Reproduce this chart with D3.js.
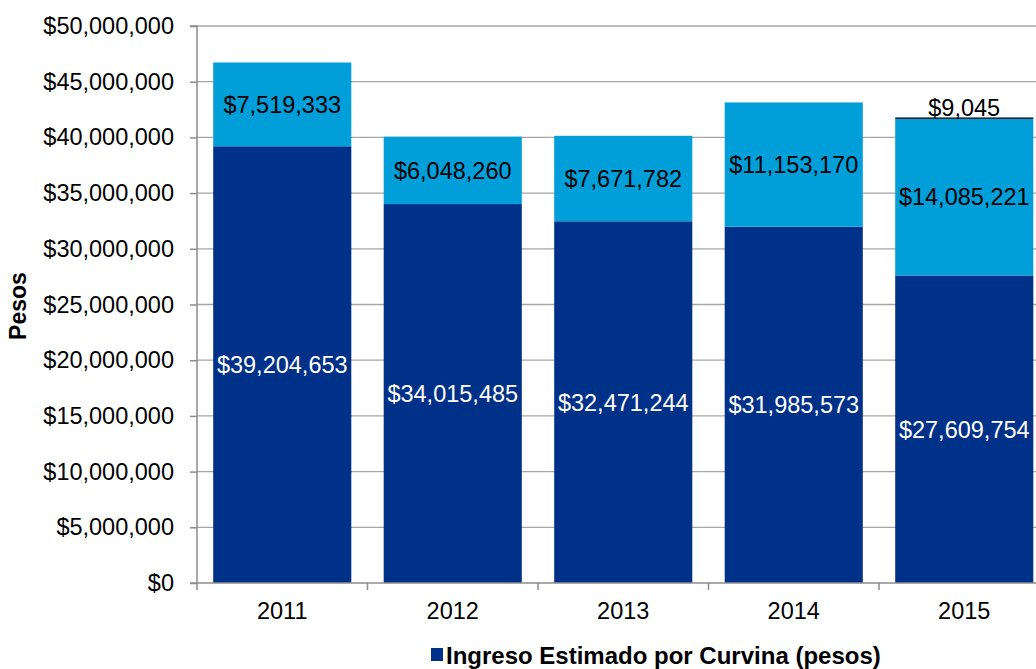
<!DOCTYPE html>
<html><head><meta charset="utf-8">
<script src="https://cdn.jsdelivr.net/npm/d3@7"></script>
<style>body{margin:0;background:#fff;overflow:hidden}svg{display:block;font-family:"Liberation Sans",Arial,sans-serif}</style>
</head><body><svg id="c" width="1036" height="669"></svg>
<script>
const years = ["2011","2012","2013","2014","2015"];
const ingresoCurvina = [39204653, 34015485, 32471244, 31985573, 27609754];
const serie2 = [7519333, 6048260, 7671782, 11153170, 14085221];
const serie3 = [0, 0, 0, 0, 9045];
const yTicks = [0,5000000,10000000,15000000,20000000,25000000,30000000,35000000,40000000,45000000,50000000];
const legendLabel = "Ingreso Estimado por Curvina (pesos)";
const yTitle = "Pesos";

(function(){
const svg = d3.select("#c");
const pLeft = 197, pTop = 26, pBottom = 583, band = 170.5;
const fs = 23.5;
const x = d3.scaleBand().domain(years).range([pLeft, pLeft + band*years.length]).paddingInner(0.19).paddingOuter(0.095);
const y = d3.scaleLinear().domain([0, 50000000]).range([pBottom, pTop]);
const fmt = d3.format("$,.0f");
const dark = "#003189", light = "#009fda", grid = "#a6a6a6";

svg.append("g").selectAll("line").data(yTicks.slice(1)).join("line")
  .attr("x1", pLeft).attr("x2", 1036).attr("y1", d=>y(d)).attr("y2", d=>y(d))
  .attr("stroke", grid).attr("stroke-width", 1.3);

const stacks = years.map((yr,i)=>({yr, a: ingresoCurvina[i], b: serie2[i], c: serie3[i]}));
const g = svg.append("g");
g.selectAll("rect.a").data(stacks).join("rect").attr("class","a")
  .attr("x", d=>x(d.yr)).attr("width", x.bandwidth())
  .attr("y", d=>y(d.a)).attr("height", d=>y(0)-y(d.a)).attr("fill", dark);
g.selectAll("rect.b").data(stacks).join("rect").attr("class","b")
  .attr("x", d=>x(d.yr)).attr("width", x.bandwidth())
  .attr("y", d=>y(d.a+d.b)).attr("height", d=>y(d.a)-y(d.a+d.b)).attr("fill", light);
g.selectAll("rect.c").data(stacks.filter(d=>d.c>0)).join("rect").attr("class","c")
  .attr("x", d=>x(d.yr)).attr("width", x.bandwidth())
  .attr("y", d=>y(d.a+d.b+d.c)-1).attr("height", d=>Math.max(1.5, y(d.a+d.b)-y(d.a+d.b+d.c))).attr("fill", "#1a1a2a");

const yAxis = d3.axisLeft(y).tickValues(yTicks).tickFormat(fmt).tickSize(7).tickPadding(16);
const ya = svg.append("g").attr("transform", `translate(${pLeft},0)`).call(yAxis);
ya.select(".domain").attr("stroke", "#8c8c8c").attr("stroke-width", 1.5).attr("d", `M-7,${pTop}H0V${pBottom}`);
ya.selectAll(".tick line").attr("stroke", "#8c8c8c").attr("stroke-width", 1.5);
ya.selectAll(".tick text").attr("font-size", fs).attr("fill", "#000").attr("font-family", "Liberation Sans, Arial, sans-serif");

const xTickPos = d3.range(years.length+1).map(i=>pLeft + i*band);
svg.append("line").attr("x1", pLeft-7).attr("x2", 1036).attr("y1", pBottom).attr("y2", pBottom).attr("stroke", "#8c8c8c").attr("stroke-width", 1.5);
svg.append("g").selectAll("line").data(xTickPos).join("line")
  .attr("x1", d=>d).attr("x2", d=>d).attr("y1", pBottom).attr("y2", pBottom+7).attr("stroke", "#8c8c8c").attr("stroke-width", 1.5);
svg.append("g").selectAll("text").data(years).join("text")
  .attr("x", d=>x(d)+x.bandwidth()/2).attr("y", 619).attr("text-anchor","middle")
  .attr("font-size", fs).text(d=>d);

const lab = svg.append("g").attr("font-size", fs).attr("text-anchor","middle");
lab.selectAll("text.a").data(stacks).join("text").attr("class","a")
  .attr("x", d=>x(d.yr)+x.bandwidth()/2).attr("y", d=>(y(d.a)+y(0))/2).attr("dy","0.36em")
  .attr("fill","#fff").text(d=>fmt(d.a));
lab.selectAll("text.b").data(stacks).join("text").attr("class","b")
  .attr("x", d=>x(d.yr)+x.bandwidth()/2).attr("y", d=>(y(d.a)+y(d.a+d.b))/2).attr("dy","0.36em")
  .attr("fill","#000").text(d=>fmt(d.b));
lab.selectAll("text.c").data(stacks.filter(d=>d.c>0)).join("text").attr("class","c")
  .attr("x", d=>x(d.yr)+x.bandwidth()/2).attr("y", d=>y(d.a+d.b+d.c)-2)
  .attr("fill","#000").text(d=>fmt(d.c));

svg.append("text").attr("transform","translate(26,306) rotate(-90)").attr("text-anchor","middle")
  .attr("font-size", 23).attr("font-weight","bold").text(yTitle);

svg.append("rect").attr("x", 431).attr("y", 648).attr("width", 12).attr("height", 13).attr("fill", dark);
svg.append("text").attr("x", 446).attr("y", 664).attr("font-size", 24).attr("font-weight","bold").text(legendLabel);
})();
</script></body></html>
